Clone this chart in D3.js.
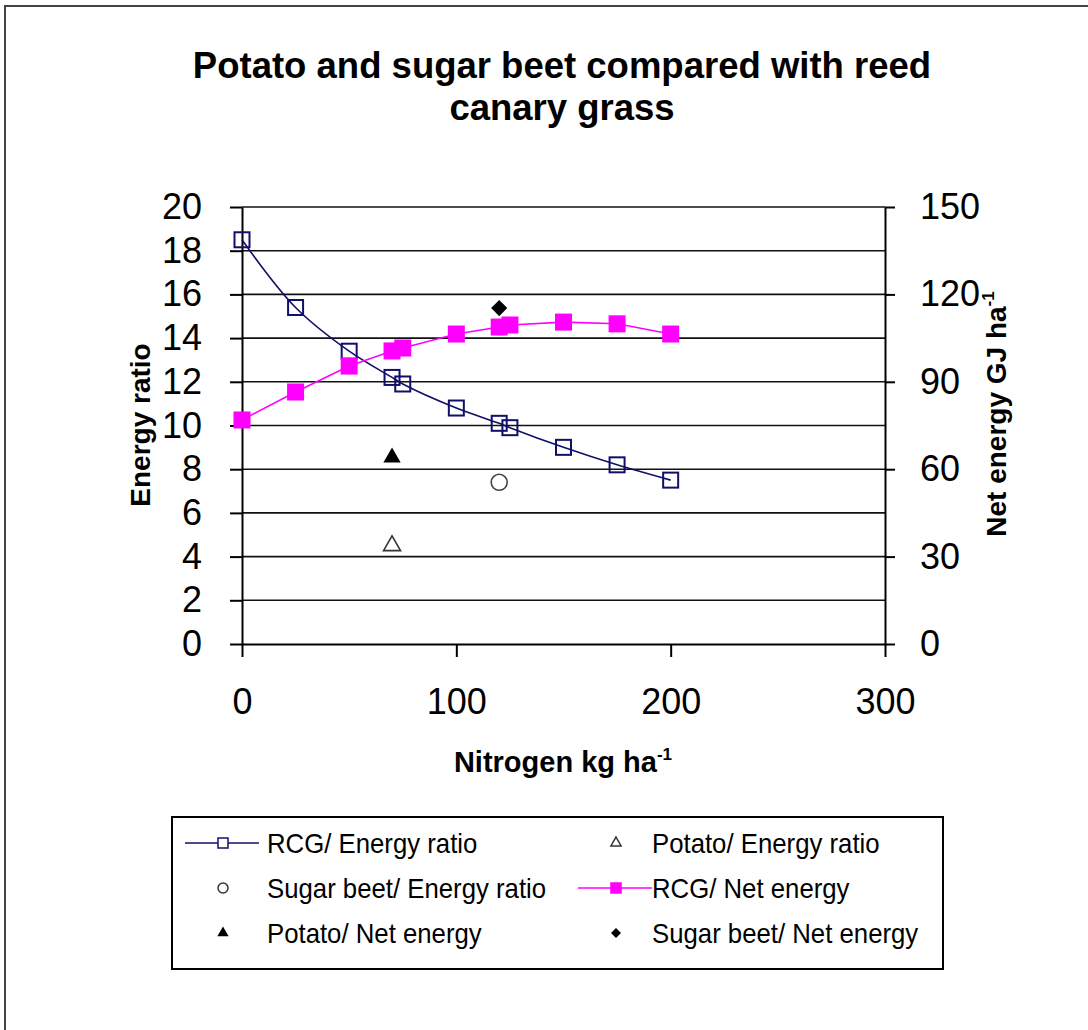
<!DOCTYPE html>
<html lang="en">
<head>
<meta charset="utf-8">
<title>Potato and sugar beet compared with reed canary grass</title>
<script src="https://d3js.org/d3.v7.min.js"></script>
<style>
  body { margin: 0; background: #fff; }
  svg { font-family: "Liberation Sans", Arial, sans-serif; }
  .grid line { stroke: #111; stroke-width: 1.6px; }
  .axis path, .axis line { stroke: #000; stroke-width: 2px; }
  .axis text { font-size: 36px; fill: #000; }
</style>
</head>
<body>
<div id="chart"></div>
<script>
// nitrogen rates (kg/ha) for reed canary grass
const nitrogen = [0, 25, 50, 70, 75, 100, 120, 125, 150, 175, 200];
const rcgRatio = [18.5, 15.4, 13.4, 12.2, 11.9, 10.8, 10.1, 9.9, 9.0, 8.2, 7.5];
const rcgNet = [76.9, 86.5, 95.4, 100.6, 101.6, 106.4, 108.8, 109.5, 110.5, 109.9, 106.4];

// single points
const potato = { n: 70, ratio: 4.5, net: 64 };
const sugarBeet = { n: 120, ratio: 7.4, net: 115.3 };

const xTicks = [0, 100, 200, 300];
const leftTicks = d3.range(0, 21, 2);
const rightTicks = [0, 30, 60, 90, 120, 150];

const legendLabels = [
  "RCG/ Energy ratio", "Potato/ Energy ratio",
  "Sugar beet/ Energy ratio", "RCG/ Net energy",
  "Potato/ Net energy", "Sugar beet/ Net energy"
];

const width = 1088, height = 1030;
const m = { left: 242, right: 885, top: 207, bottom: 644 };
const navy = "#10106a", pink = "#ff00ff";

const svg = d3.select("#chart").append("svg")
  .attr("width", width)
  .attr("height", height);

// chart area frame (only top/left visible in original)
svg.append("path")
  .attr("d", `M5,${height} V6 H${width}`)
  .attr("fill", "none")
  .attr("stroke", "#444")
  .attr("stroke-width", 2);

const x = d3.scaleLinear().domain([0, 300]).range([m.left, m.right]);
const yL = d3.scaleLinear().domain([0, 20]).range([m.bottom, m.top]);
const yR = d3.scaleLinear().domain([0, 150]).range([m.bottom, m.top]);

// title
const title = svg.append("text")
  .attr("text-anchor", "middle")
  .attr("font-weight", "bold")
  .attr("font-size", 36.5);
title.append("tspan").attr("x", 562).attr("y", 78).text("Potato and sugar beet compared with reed");
title.append("tspan").attr("x", 562).attr("y", 120).text("canary grass");

// gridlines
svg.append("g").attr("class", "grid")
  .selectAll("line")
  .data(leftTicks.filter(d => d > 0))
  .join("line")
  .attr("x1", m.left).attr("x2", m.right)
  .attr("y1", d => yL(d)).attr("y2", d => yL(d));

// axes
svg.append("g").attr("class", "axis")
  .attr("transform", `translate(${m.left},0)`)
  .call(d3.axisLeft(yL).tickValues(leftTicks).tickSize(12).tickPadding(28).tickSizeOuter(0));

svg.append("g").attr("class", "axis")
  .attr("transform", `translate(${m.right},0)`)
  .call(d3.axisRight(yR).tickValues(rightTicks).tickSize(10).tickPadding(25).tickSizeOuter(0));

svg.append("g").attr("class", "axis")
  .attr("transform", `translate(0,${m.bottom})`)
  .call(d3.axisBottom(x).tickValues(xTicks).tickSize(13).tickPadding(31).tickSizeOuter(0));

// axis titles
svg.append("text")
  .attr("transform", `translate(150,425) rotate(-90)`)
  .attr("text-anchor", "middle")
  .attr("font-weight", "bold")
  .attr("font-size", 28)
  .text("Energy ratio");

const rt = svg.append("text")
  .attr("transform", `translate(1006,414) rotate(-90)`)
  .attr("text-anchor", "middle")
  .attr("font-weight", "bold")
  .attr("font-size", 28);
rt.append("tspan").text("Net energy GJ ha");
rt.append("tspan").attr("font-size", 17).attr("dy", -12).text("-1");

const xt = svg.append("text")
  .attr("x", 563).attr("y", 772)
  .attr("text-anchor", "middle")
  .attr("font-weight", "bold")
  .attr("font-size", 29);
xt.append("tspan").text("Nitrogen kg ha");
xt.append("tspan").attr("font-size", 17).attr("dy", -12).text("-1");

// series
const rcgData = nitrogen.map((n, i) => ({ n, ratio: rcgRatio[i], net: rcgNet[i] }));

svg.append("path")
  .datum(rcgData)
  .attr("fill", "none")
  .attr("stroke", navy)
  .attr("stroke-width", 1.6)
  .attr("d", d3.line().x(d => x(d.n)).y(d => yL(d.ratio)).curve(d3.curveCatmullRom.alpha(0.5)));

svg.append("g").selectAll("rect")
  .data(rcgData)
  .join("rect")
  .attr("x", d => x(d.n) - 7.5).attr("y", d => yL(d.ratio) - 7.5)
  .attr("width", 15).attr("height", 15)
  .attr("fill", "none")
  .attr("stroke", navy)
  .attr("stroke-width", 2);

const sym = (type, size) => d3.symbol().type(type).size(size)();

// potato / energy ratio (open triangle)
svg.append("path")
  .attr("d", sym(d3.symbolTriangle, 125))
  .attr("transform", `translate(${x(potato.n)},${yL(potato.ratio)})`)
  .attr("fill", "none").attr("stroke", "#333").attr("stroke-width", 1.6);

// sugar beet / energy ratio (open circle)
svg.append("circle")
  .attr("cx", x(sugarBeet.n)).attr("cy", yL(sugarBeet.ratio)).attr("r", 8)
  .attr("fill", "none").attr("stroke", "#444").attr("stroke-width", 1.6);

// RCG net energy
svg.append("path")
  .datum(rcgData)
  .attr("fill", "none")
  .attr("stroke", pink)
  .attr("stroke-width", 1.6)
  .attr("d", d3.line().x(d => x(d.n)).y(d => yR(d.net)));

svg.append("g").selectAll("rect")
  .data(rcgData)
  .join("rect")
  .attr("x", d => x(d.n) - 8.5).attr("y", d => yR(d.net) - 8.5)
  .attr("width", 17).attr("height", 17)
  .attr("fill", pink);

// potato / net energy (filled triangle)
svg.append("path")
  .attr("d", sym(d3.symbolTriangle, 130))
  .attr("transform", `translate(${x(potato.n)},${yR(potato.net)})`)
  .attr("fill", "#000");

// sugar beet / net energy (diamond = rotated square)
svg.append("path")
  .attr("d", sym(d3.symbolSquare, 130))
  .attr("transform", `translate(${x(sugarBeet.n)},${yR(sugarBeet.net)}) rotate(45)`)
  .attr("fill", "#000");

// legend
const lg = svg.append("g");
lg.append("rect")
  .attr("x", 172).attr("y", 817).attr("width", 771).attr("height", 152)
  .attr("fill", "#fff").attr("stroke", "#000").attr("stroke-width", 2);

const colX = [223, 616], textX = [267, 652], rowY = [843, 888, 933];

legendLabels.forEach((lab, i) => {
  const c = i % 2, r = Math.floor(i / 2);
  const cx = colX[c], cy = rowY[r];
  const item = lg.append("g");
  if (i === 0 || i === 3) {
    const col = i === 0 ? navy : pink;
    item.append("line")
      .attr("x1", cx - 38).attr("x2", cx + 36).attr("y1", cy).attr("y2", cy)
      .attr("stroke", col).attr("stroke-width", 1.6);
    item.append("rect")
      .attr("x", cx - 5).attr("y", cy - 5).attr("width", 10).attr("height", 10)
      .attr("fill", i === 0 ? "#fff" : pink)
      .attr("stroke", col).attr("stroke-width", 1.5);
  } else if (i === 1) {
    item.append("path").attr("d", sym(d3.symbolTriangle, 45))
      .attr("transform", `translate(${cx},${cy})`)
      .attr("fill", "none").attr("stroke", "#333").attr("stroke-width", 1.5);
  } else if (i === 2) {
    item.append("circle").attr("cx", cx).attr("cy", cy).attr("r", 5)
      .attr("fill", "none").attr("stroke", "#333").attr("stroke-width", 1.5);
  } else if (i === 4) {
    item.append("path").attr("d", sym(d3.symbolTriangle, 55))
      .attr("transform", `translate(${cx},${cy})`).attr("fill", "#000");
  } else {
    item.append("path").attr("d", sym(d3.symbolSquare, 50))
      .attr("transform", `translate(${cx},${cy}) rotate(45)`).attr("fill", "#000");
  }
  item.append("text")
    .attr("transform", `translate(${textX[c]},${cy + 10}) scale(0.92,1)`)
    .attr("font-size", 28)
    .text(lab);
});
</script>
</body>
</html>
